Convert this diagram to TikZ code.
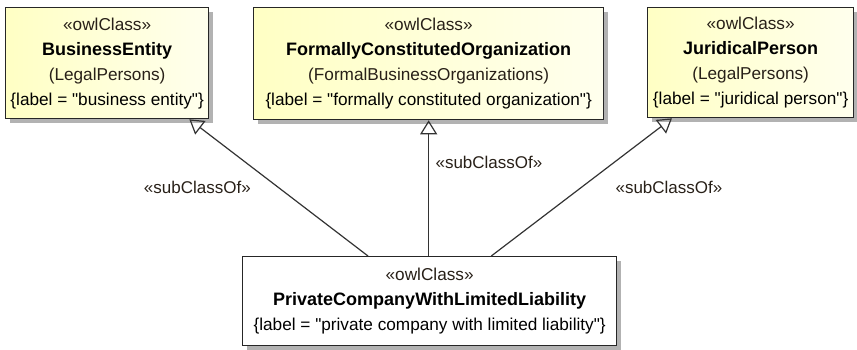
\documentclass[tikz,border=0pt]{standalone}
\usepackage{fontspec}
\setmainfont{Liberation Sans}
\usepackage{xcolor}
\usepackage{tikz}
\usetikzlibrary{arrows.meta,positioning,shadows}

\definecolor{owltext}{RGB}{40,32,24}
\definecolor{owlfill}{RGB}{255,255,196}
\newcommand{\dq}{\textquotedbl}
\newcommand{\owlbox}[2]{%
  {\color{owltext}\guillemotleft owlClass\guillemotright}\\
  {\fontsize{18}{25}\selectfont\bfseries #1}\\
  #2}

\begin{document}
\begin{tikzpicture}[x=1pt,y=-1pt,
    cls/.style={draw=black!85,line width=1.3pt,anchor=north west,align=center,
      inner sep=0pt,font=\fontsize{17.2}{25}\selectfont,
      drop shadow={shadow xshift=4pt,shadow yshift=-4pt,fill=black!30,opacity=1}},
    yel/.style={left color=owlfill,right color=owlfill!30},
    gen/.style={-{Triangle[open,width=17pt,length=14pt,line width=1.2pt]},line width=1.2pt,draw=black!80},
    lbl/.style={font=\fontsize{17}{20}\selectfont,text=owltext}]
      \useasboundingbox (0,0) rectangle (857,350);
      \node[cls,yel,minimum width=203,minimum height=111] (be) at (5,7)
        {\owlbox{BusinessEntity}{{\color{owltext}(LegalPersons)}\\\{label = \dq business entity\dq\}}};
      \node[cls,yel,minimum width=350,minimum height=112] (fco) at (253,7)
        {\owlbox{FormallyConstitutedOrganization}{{\color{owltext}(FormalBusinessOrganizations)}\\\{label = \dq formally constituted organization\dq\}}};
      \node[cls,yel,minimum width=206,minimum height=110] (jp) at (647,7)
        {\owlbox{JuridicalPerson}{{\color{owltext}(LegalPersons)}\\\{label = \dq juridical person\dq\}}};
      \node[cls,fill=white,minimum width=374,minimum height=89] (pc) at (242,256)
        {\owlbox{PrivateCompanyWithLimitedLiability}{\{label = \dq private company with limited liability\dq\}}};
      % generalisations
      \draw[gen] ([xshift=126]pc.north west) -- ([xshift=-20]be.south east)
        node[lbl,midway,left=24pt] {\guillemotleft subClassOf\guillemotright};
      \draw[gen] (pc.north -| fco.south) -- (fco.south)
        node[lbl,pos=.69,right=3pt] {\guillemotleft subClassOf\guillemotright};
      \draw[gen] ([xshift=-126]pc.north east) -- ([xshift=25]jp.south west)
        node[lbl,midway,right=30pt] {\guillemotleft subClassOf\guillemotright};
    \end{tikzpicture}
\end{document}
